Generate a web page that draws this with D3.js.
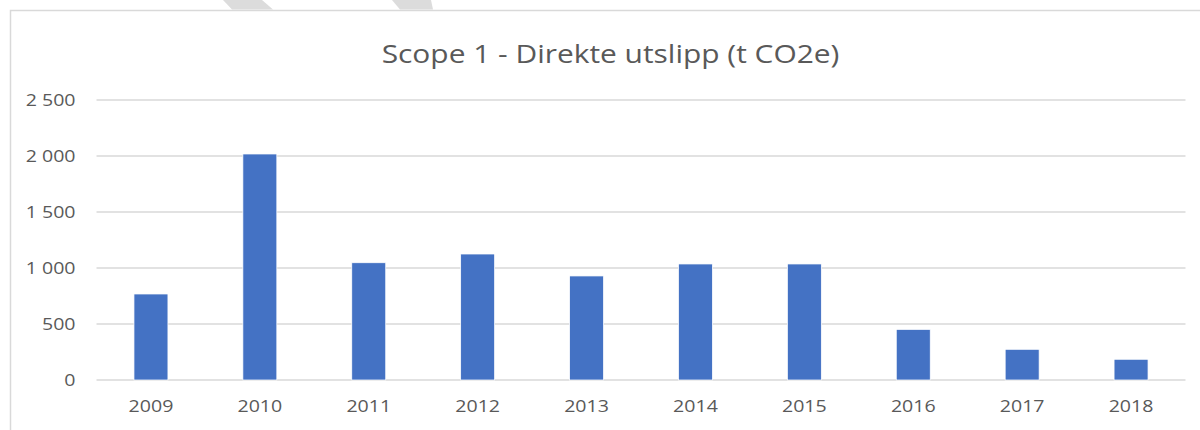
<!DOCTYPE html>
<html>
<head>
<meta charset="utf-8">
<script src="https://cdn.jsdelivr.net/npm/d3@7"></script>
<style>
  html, body { margin: 0; padding: 0; background: #fff; }
  svg { display: block; }
  text { font-family: "Open Sans", "Liberation Sans", sans-serif; fill: #595959; }
</style>
</head>
<body>
<svg id="chart" width="1200" height="430"></svg>
<script>
// data
const years = ["2009", "2010", "2011", "2012", "2013", "2014", "2015", "2016", "2017", "2018"];
const emissions = [768, 2018, 1047, 1125, 929, 1036, 1036, 452, 274, 185];
const yTicks = [0, 500, 1000, 1500, 2000, 2500];
const titleText = "Scope 1 - Direkte utslipp (t CO2e)";

const svg = d3.select("#chart");
const width = 1200, height = 430;
const margin = {top: 100, right: 14.5, bottom: 50, left: 96.5};

// the source screenshot is a bit wider than the fonts we have
const stretch = 1.15;

function widen(sel) {
	sel.each(function() {
		const w = this.getComputedTextLength();
		d3.select(this).attr("textLength", w * stretch).attr("lengthAdjust", "spacingAndGlyphs");
	});
}

// faint watermark pieces at the top edge
const watermark = [
	[[223, 0], [262, 0], [273, 9.5], [232, 9.5]],
	[[392, 0], [431, 0], [433, 9.5], [400, 9.5]]
];
svg.selectAll("polygon.wm")
  .data(watermark)
  .join("polygon")
  .attr("class", "wm")
  .attr("points", d => d.map(p => p.join(",")).join(" "))
  .attr("fill", "#dcdcdc");

// chart frame (only top and left visible)
svg.append("path")
  .attr("d", "M10.5,430 L10.5,10.5 L1200,10.5")
  .attr("fill", "none")
  .attr("stroke", "#d9d9d9")
  .attr("stroke-width", 1.5);

const x = d3.scaleBand()
  .domain(years)
  .range([margin.left, width - margin.right])
  .paddingInner(0.688)
  .paddingOuter(0.344);

const y = d3.scaleLinear()
  .domain([0, 2500])
  .range([height - margin.bottom, margin.top]);

// gridlines
svg.append("g")
  .selectAll("line")
  .data(yTicks)
  .join("line")
  .attr("x1", margin.left)
  .attr("x2", width - margin.right)
  .attr("y1", d => y(d))
  .attr("y2", d => y(d))
  .attr("stroke", "#d9d9d9")
  .attr("stroke-width", 1.5);

// y axis labels, space as thousands separator
const fmt = d => d3.format(",")(d).replace(/,/g, " ");
const yAxis = d3.axisLeft(y)
  .tickValues(yTicks)
  .tickSize(0)
  .tickPadding(21)
  .tickFormat(fmt);
const gy = svg.append("g")
  .attr("transform", `translate(${margin.left},0)`)
  .call(yAxis);
gy.select(".domain").remove();
gy.selectAll("text")
  .attr("font-size", 17)
  .attr("fill", "#595959")
  .attr("font-family", "\"Open Sans\", sans-serif")
  .call(widen);

// bars
svg.append("g")
  .selectAll("rect")
  .data(years.map((yr, i) => ({year: yr, value: emissions[i]})))
  .join("rect")
  .attr("x", d => x(d.year))
  .attr("y", d => y(d.value))
  .attr("width", x.bandwidth())
  .attr("height", d => y(0) - y(d.value))
  .attr("fill", "#4472c4")
  .attr("stroke", "#ffffff")
  .attr("stroke-width", 0.75);

// x axis labels
const xAxis = d3.axisBottom(x).tickSize(0).tickPadding(20);
const gx = svg.append("g")
  .attr("transform", `translate(0,${height - margin.bottom})`)
  .call(xAxis);
gx.select(".domain").remove();
gx.selectAll("text")
  .attr("font-size", 17)
  .attr("fill", "#595959")
  .attr("font-family", "\"Open Sans\", sans-serif")
  .call(widen);

// title
svg.append("text")
  .attr("x", 610.5)
  .attr("y", 63)
  .attr("text-anchor", "middle")
  .attr("font-size", 26)
  .attr("fill", "#595959")
  .text(titleText)
  .call(widen);
</script>
</body>
</html>
